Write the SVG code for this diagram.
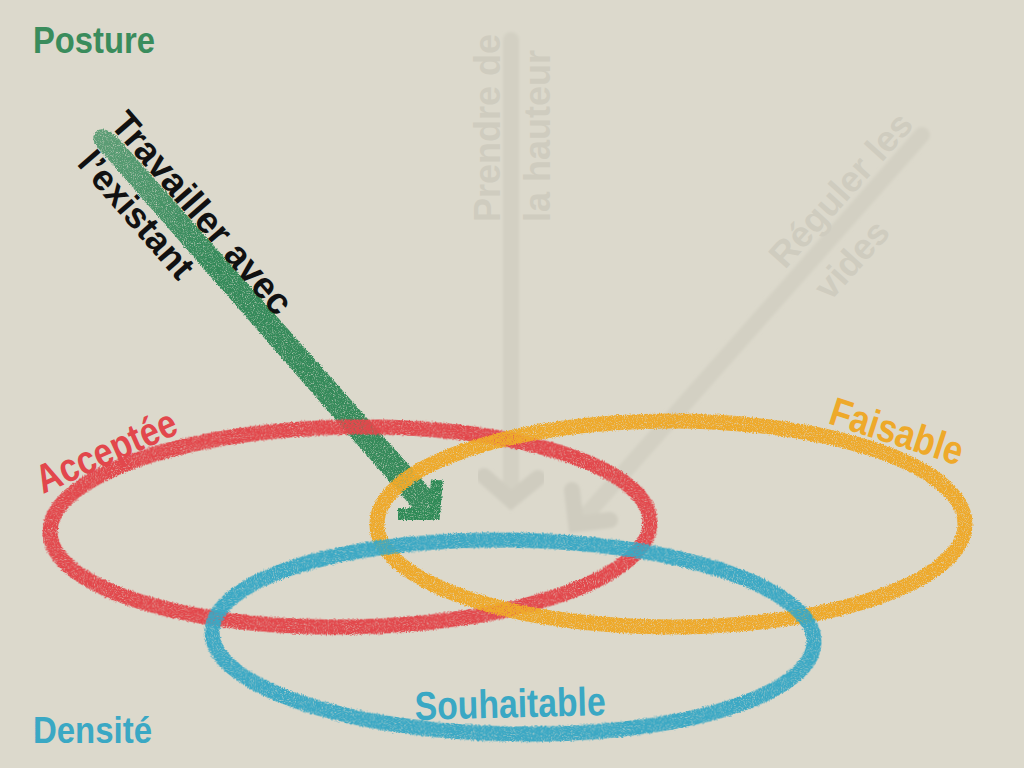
<svg xmlns="http://www.w3.org/2000/svg" width="1024" height="768" viewBox="0 0 1024 768">
<defs>
<filter id="chalk" x="-5%" y="-5%" width="110%" height="110%">
<feTurbulence type="fractalNoise" baseFrequency="0.9" numOctaves="2" seed="4" result="n"/>
<feDisplacementMap in="SourceGraphic" in2="n" scale="4" xChannelSelector="R" yChannelSelector="G" result="d"/>
<feColorMatrix in="n" type="matrix" values="0 0 0 0 0  0 0 0 0 0  0 0 0 0 0  0 0 0 -2.2 2.1" result="a"/>
<feComposite in="d" in2="a" operator="in"/>
</filter>
<filter id="soft"><feGaussianBlur stdDeviation="1.5"/></filter>
<linearGradient id="greenfade" gradientUnits="userSpaceOnUse" x1="96" y1="132" x2="430" y2="505">
<stop offset="0" stop-color="#348a5a" stop-opacity="0.75"/>
<stop offset="0.35" stop-color="#348a5a" stop-opacity="1"/>
</linearGradient>
</defs>
<style>
.lbl{font-family:"Liberation Sans",Arial,sans-serif;font-weight:bold}
.ghost{font-family:"Liberation Sans",Arial,sans-serif;font-weight:bold;fill:#cfccbf;font-size:36px}
.ring{fill:none;stroke-width:15}
.garrow{fill:none;stroke:#d3d0c3;stroke-width:16;stroke-linecap:round}
</style>
<rect width="1024" height="768" fill="#dcd9cc"/>

<g id="connectors">
<g id="arrow-hauteur" class="garrow" filter="url(#soft)">
<path d="M511 40 L511 498"/>
<path d="M484 476 L511 500 L538 478" stroke="#cfccbf"/>
</g>
<g id="arrow-vides" class="garrow" filter="url(#soft)">
<path d="M922 135 L580 522"/>
<path d="M572 490 L576 524 L610 520" stroke="#cfccbf"/>
</g>
<g id="arrow-existant" filter="url(#chalk)">
<path d="M96 132 C100 126 112 130 120 140 L438 498 L418 514 L100 150 C92 142 92 136 96 132 Z" fill="url(#greenfade)"/>
<path d="M398 514 L434 514 L437 480" fill="none" stroke="#2f8a57" stroke-width="12" stroke-linejoin="miter"/>
</g>
</g>

<g id="ghost-labels">
<text class="ghost" transform="translate(500,222) rotate(-90)">Prendre de</text>
<text class="ghost" transform="translate(550,222) rotate(-90)">la hauteur</text>
<text class="ghost" transform="translate(785,270) rotate(-48)">Réguler les</text>
<text class="ghost" transform="translate(830,302) rotate(-48)">vides</text>
</g>

<g id="node-acceptee">
<ellipse class="ring" cx="350" cy="527" rx="300" ry="100" stroke="#e2474c" stroke-width="14" transform="rotate(-1 350 527)" filter="url(#chalk)"/>
<text class="lbl" fill="#e2474c" font-size="40" textLength="150" lengthAdjust="spacingAndGlyphs" transform="translate(43,494) rotate(-24)">Acceptée</text>
</g>
<g id="node-faisable">
<ellipse class="ring" cx="671" cy="524" rx="294" ry="103" stroke="#eea92a" stroke-width="16" filter="url(#chalk)"/>
<text class="lbl" fill="#eea92a" font-size="40" textLength="138" lengthAdjust="spacingAndGlyphs" transform="translate(827,423) rotate(18)">Faisable</text>
</g>
<g id="node-souhaitable">
<ellipse class="ring" cx="513" cy="637" rx="301" ry="97" stroke="#3aa8c4" transform="rotate(1 513 637)" filter="url(#chalk)"/>
<text class="lbl" fill="#3aa8c4" font-size="40" textLength="191" lengthAdjust="spacingAndGlyphs" transform="translate(415,720) rotate(-1.5)">Souhaitable</text>
</g>

<g id="node-travailler">
<text class="lbl" fill="#111" font-size="37" transform="translate(109,125) rotate(49)">Travailler avec</text>
<text class="lbl" fill="#111" font-size="36" transform="translate(76,164) rotate(49)">l’existant</text>
</g>

<g id="node-posture">
<text class="lbl" fill="#3a8c5c" font-size="36" x="33" y="53" textLength="122" lengthAdjust="spacingAndGlyphs">Posture</text>
</g>
<g id="node-densite">
<text class="lbl" fill="#3aa8c4" font-size="36" x="33" y="743" textLength="119" lengthAdjust="spacingAndGlyphs">Densité</text>
</g>
</svg>
